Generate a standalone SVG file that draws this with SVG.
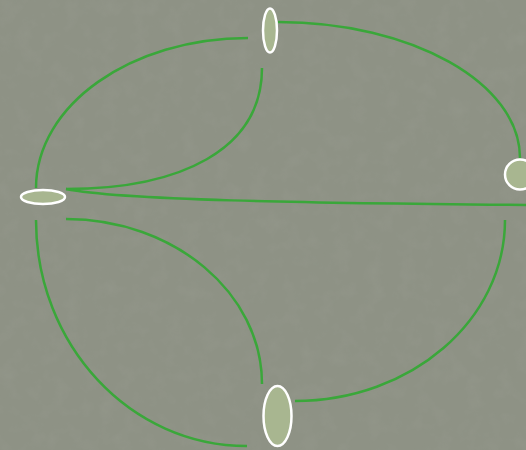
<svg xmlns="http://www.w3.org/2000/svg" width="526" height="450" viewBox="0 0 526 450">
<defs>
<filter id="tex" x="0" y="0" width="100%" height="100%">
<feTurbulence type="fractalNoise" baseFrequency="0.06" numOctaves="3" seed="4"/>
<feColorMatrix type="matrix" values="0 0 0 0 0.35  0 0 0 0 0.37  0 0 0 0 0.32  0 0 0 -1.6 0.9"/>
</filter>
<style>
.edge{fill:none;stroke:#3aa73a;stroke-width:2.5;}
.node{fill:#a8b690;stroke:#ffffff;stroke-width:2.5;}
</style>
</defs>
<rect width="526" height="450" fill="#8e9285"/>
<rect width="526" height="450" filter="url(#tex)" opacity="0.25"/>
<g id="connectors">
<path class="edge" d="M36,188 C36,105 131,38 248,38"/>
<path class="edge" d="M262,68 C262,150 180,189 66,189"/>
<path class="edge" d="M278,22 C412,22 520,83 520,158"/>
<path class="edge" d="M66,189 C120,200 300,203 526,205"/>
<path class="edge" d="M36,220 C36,345 130,446 247,446"/>
<path class="edge" d="M66,219 C174,219 262,293 262,384"/>
<path class="edge" d="M505,220 C505,320 411,401 295,401"/>
</g>
<g id="node-top"><ellipse class="node" cx="270" cy="30.5" rx="7" ry="22"/></g>
<g id="node-left"><ellipse class="node" cx="43" cy="197" rx="22" ry="7"/></g>
<g id="node-right"><circle class="node" cx="520" cy="174.5" r="15"/></g>
<g id="node-bottom"><ellipse class="node" cx="277.5" cy="416" rx="14" ry="30"/></g>
</svg>
